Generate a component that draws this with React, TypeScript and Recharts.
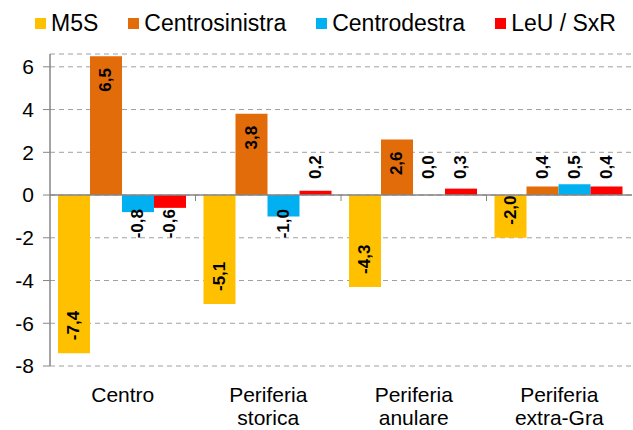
import React from 'react';
import { BarChart, Bar, XAxis, YAxis, CartesianGrid, Legend, ReferenceLine, Rectangle } from 'recharts';

const categories = ['Centro', 'Periferia storica', 'Periferia anulare', 'Periferia extra-Gra'];
const categoryLines = [['Centro'], ['Periferia', 'storica'], ['Periferia', 'anulare'], ['Periferia', 'extra-Gra']];
const m5s = [-7.4, -5.1, -4.3, -2.0];
const centrosinistra = [6.5, 3.8, 2.6, 0.4];
const centrodestra = [-0.8, -1.0, 0.0, 0.5];
const leuSxr = [-0.6, 0.2, 0.3, 0.4];
const yTicks = [-8, -6, -4, -2, 0, 2, 4, 6];
const seriesKeys = ['m5s', 'centrosinistra', 'centrodestra', 'leuSxr'];
const seriesNames = ['M5S', 'Centrosinistra', 'Centrodestra', 'LeU / SxR'];
const colors = ['#FFC000', '#E36C0A', '#00B0F0', '#FF0000'];

const data = categories.map((c, i) => ({
  name: c,
  m5s: m5s[i],
  centrosinistra: centrosinistra[i],
  centrodestra: centrodestra[i],
  leuSxr: leuSxr[i],
}));

const FONT = '"Liberation Sans", Arial, sans-serif';
const AXIS = '#868686';

const renderBar = (key: string, color: string) => (props: any) => {
  const { x, y, width, height, payload } = props;
  const v = Number(payload[key]);
  const cx = x + width / 2;
  const top = Math.min(y, y + height);
  const bottom = Math.max(y, y + height);
  const h = bottom - top;
  const text = v.toFixed(1).replace('.', ',');
  let ay: number;
  let anchor: string;
  if (h >= 32) {
    if (v >= 0) { ay = top + 12; anchor = 'end'; } else { ay = bottom - 13; anchor = 'start'; }
  } else {
    if (v >= 0) { ay = bottom - 16; anchor = 'start'; } else { ay = top + 14; anchor = 'end'; }
  }
  return (
    <g>
      {h > 0 && <Rectangle x={x} y={top} width={width} height={h} fill={color} />}
      <text x={cx} y={ay} transform={`rotate(-90 ${cx} ${ay})`} textAnchor={anchor as any}
        dominantBaseline="central" fontSize={17} fontWeight="bold" fontFamily={FONT} fill="#000">
        {text}
      </text>
    </g>
  );
};

const CategoryTick = (props: any) => {
  const { x, payload } = props;
  const idx = categories.indexOf(payload.value);
  const lines = categoryLines[idx] || [payload.value];
  return (
    <g>
      {lines.map((l: string, i: number) => (
        <text key={i} x={x} y={402 + i * 23} textAnchor="middle" fontSize={21} fontFamily={FONT} fill="#000">{l}</text>
      ))}
    </g>
  );
};

const ZeroAxis = (props: any) => {
  const { x1, y1, x2, y2 } = props;
  const n = categories.length;
  const step = (x2 - x1) / n;
  const marks = categories.slice(1).map((_, i) => x1 + step * (i + 1));
  return (
    <g>
      <line x1={x1} y1={y1} x2={x2} y2={y2} stroke={AXIS} strokeWidth={1.5} />
      {marks.map((mx, i) => (
        <line key={i} x1={mx} x2={mx} y1={y1} y2={y1 + 6} stroke={AXIS} strokeWidth={1} />
      ))}
    </g>
  );
};

const LegendContent = () => (
  <div style={{ display: 'flex', justifyContent: 'center', alignItems: 'center', height: 30, fontFamily: FONT, fontSize: 23, color: '#000', paddingLeft: 18 }}>
    {seriesNames.map((n, i) => (
      <div key={n} style={{ display: 'flex', alignItems: 'center', marginRight: i < seriesNames.length - 1 ? 30 : 0 }}>
        <span style={{ display: 'inline-block', width: 11, height: 11, background: colors[i], marginRight: 5 }} />
        <span>{n}</span>
      </div>
    ))}
  </div>
);

export default function App() {
  return (
    <div style={{ position: 'absolute', left: 0, top: 0, width: 633, height: 430, background: '#fff' }}>
      <BarChart width={633} height={430} data={data} margin={{ top: 24, right: 1, bottom: 4, left: 0 }}
        barCategoryGap={8} barGap={0}>
        <Legend verticalAlign="top" content={LegendContent} wrapperStyle={{ top: 8, left: 0, width: 633 }} />
        <CartesianGrid horizontal vertical={false} stroke="#A0A0A0" strokeDasharray="5 4" />
        <XAxis dataKey="name" axisLine={false} tickLine={false} tick={<CategoryTick />} height={60} interval={0} />
        <YAxis domain={[-8, 6.6]} ticks={yTicks} width={50} axisLine={{ stroke: AXIS, strokeWidth: 1.5 }}
          tickLine={{ stroke: AXIS }} tickSize={7} tickMargin={9} allowDataOverflow
          tick={{ fontSize: 21, fill: '#000', fontFamily: FONT }} />
        {seriesKeys.map((k, i) => (
          <Bar key={k} dataKey={k} name={seriesNames[i]} fill={colors[i]} isAnimationActive={false}
            shape={renderBar(k, colors[i])} />
        ))}
        <ReferenceLine y={0} shape={<ZeroAxis />} />
      </BarChart>
    </div>
  );
}
